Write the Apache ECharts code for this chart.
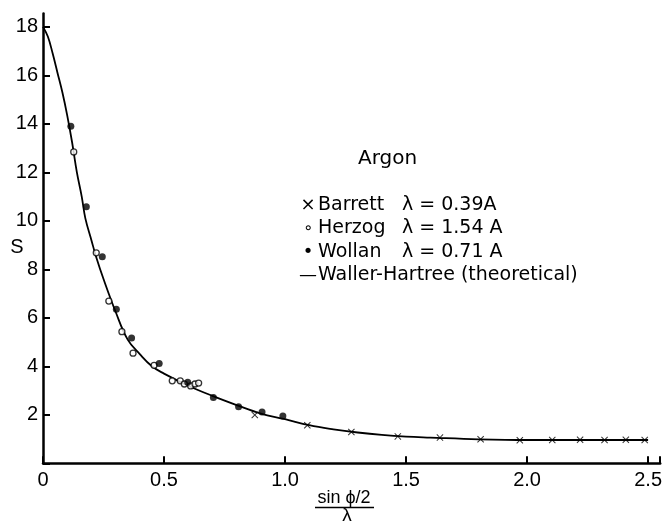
<!DOCTYPE html>
<html>
<head>
<meta charset="utf-8">
<script src="https://cdn.jsdelivr.net/npm/echarts@6/dist/echarts.min.js"></script>
<style>html,body{margin:0;padding:0;background:#fff;}#c{width:665px;height:523px;}</style>
</head>
<body>
<div id="c"></div>
<script>
// Data
const barrett = [[0.875,1.99],[1.092,1.57],[1.274,1.29],[1.466,1.11],[1.64,1.06],[1.808,0.99],[1.97,0.95],[2.104,0.96],[2.219,0.97],[2.32,0.96],[2.408,0.97],[2.486,0.96]];
const herzog = [[0.127,12.84],[0.22,8.68],[0.272,6.69],[0.326,5.43],[0.372,4.54],[0.459,4.04],[0.534,3.40],[0.567,3.40],[0.584,3.27],[0.61,3.19],[0.628,3.27],[0.643,3.31]];
const wollan = [[0.115,13.9],[0.179,10.58],[0.245,8.52],[0.303,6.35],[0.366,5.17],[0.48,4.12],[0.598,3.34],[0.704,2.71],[0.808,2.33],[0.905,2.12],[0.991,1.95]];
const wallerHartree = [[0,18],[0.02,17.6],[0.04,16.9],[0.06,16.1],[0.08,15.3],[0.1,14.35],[0.12,13.25],[0.14,12.0],[0.16,11.0],[0.175,10.1],[0.2,9.2],[0.22,8.5],[0.25,7.6],[0.3,6.25],[0.35,5.1],[0.4,4.5],[0.45,4.0],[0.5,3.7],[0.6,3.2],[0.7,2.78],[0.8,2.4],[0.9,2.05],[1.0,1.82],[1.1,1.57],[1.2,1.4],[1.3,1.27],[1.4,1.17],[1.5,1.1],[1.6,1.06],[1.8,0.99],[2.0,0.96],[2.2,0.96],[2.5,0.96]];
const xTicks = ['0','0.5','1.0','1.5','2.0','2.5'];
const legendRows = [['×','Barrett','λ = 0.39A'],['∘','Herzog','λ = 1.54 A'],['•','Wollan','λ = 0.71 A'],['—','Waller-Hartree (theoretical)','']];
const title = 'Argon';

const FONT = 'Liberation Sans';
const LFONT = 'DejaVu Sans';
const chart = echarts.init(document.getElementById('c'));
const crossPath = 'path://M0,1 L1,0 L5,4 L9,0 L10,1 L6,5 L10,9 L9,10 L5,6 L1,10 L0,9 L4,5 Z';

const graphics = [
  {type:'text', left:358, top:149, style:{text:title, font:'20px "'+LFONT+'"', fill:'#000'}}
];
legendRows.forEach((r,i)=>{
  const yc = 205 + i*23.5;
  graphics.push({type:'text', x:308, y:yc, style:{text:r[0], font:(r[0]==='∘'?'16px':'18px')+' "'+LFONT+'"', fill:'#000', align:'center', verticalAlign:'middle'}});
  graphics.push({type:'text', x:318, y:yc, style:{text:r[1], font:'19px "'+LFONT+'"', fill:'#000', verticalAlign:'middle'}});
  if (r[2]) graphics.push({type:'text', x:402, y:yc, style:{text:r[2], font:'19px "'+LFONT+'"', fill:'#000', verticalAlign:'middle'}});
});
// y-axis name
graphics.push({type:'text', x:17, y:247, style:{text:'S', font:'20px "'+FONT+'"', fill:'#000', align:'center', verticalAlign:'middle'}});
// x-axis name as a fraction
graphics.push({type:'text', x:344, y:498, style:{text:'sin ϕ/2', font:'18px "'+FONT+'"', fill:'#000', align:'center', verticalAlign:'middle'}});
graphics.push({type:'line', shape:{x1:315,y1:507.5,x2:374,y2:507.5}, style:{stroke:'#000', lineWidth:1.5}});
graphics.push({type:'text', x:347, y:516, style:{text:'λ', font:'19px "'+FONT+'"', fill:'#000', align:'center', verticalAlign:'middle'}});

chart.setOption({
  animation:false,
  backgroundColor:'#fff',
  grid:{left:43, right:1, top:13.5, bottom:59.7, containLabel:false},
  xAxis:{type:'value', min:0, max:2.55, interval:0.5,
    axisLine:{lineStyle:{color:'#000', width:2.5}},
    axisTick:{inside:true, length:7, lineStyle:{color:'#000', width:2}},
    axisLabel:{color:'#000', fontSize:20, fontFamily:FONT, margin:7,
      formatter:(v)=>{const i=Math.round(v/0.5); return Math.abs(v-i*0.5)<1e-6 ? xTicks[i] : '';}},
    splitLine:{show:false}},
  yAxis:{type:'value', min:0, max:18.55, interval:2,
    axisLine:{show:true, lineStyle:{color:'#000', width:2.5}},
    axisTick:{show:true, inside:true, length:7, lineStyle:{color:'#000', width:2}},
    axisLabel:{color:'#000', fontSize:20, fontFamily:FONT, margin:5,
      formatter:(v)=> v===0 ? '' : String(v)},
    splitLine:{show:false}},
  graphic:graphics,
  series:[
    {name:'Waller-Hartree (theoretical)', type:'line', data:wallerHartree, smooth:0.4, showSymbol:false,
      lineStyle:{color:'#000', width:1.8}, z:2},
    {name:'Barrett', type:'scatter', data:barrett, symbol:crossPath, symbolSize:7,
      itemStyle:{color:'#000'}, z:3},
    {name:'Herzog', type:'scatter', data:herzog, symbol:'circle', symbolSize:6,
      itemStyle:{color:'#fff', borderColor:'#000', borderWidth:1.3}, z:3},
    {name:'Wollan', type:'scatter', data:wollan, symbol:'circle', symbolSize:7,
      itemStyle:{color:'#000'}, z:3}
  ]
});
</script>
</body>
</html>
